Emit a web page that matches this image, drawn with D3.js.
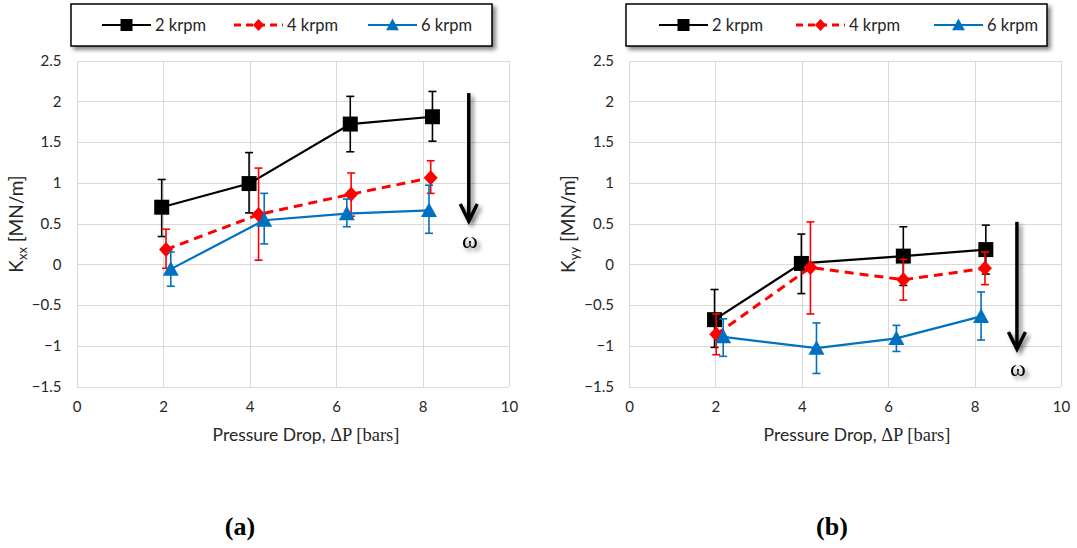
<!DOCTYPE html>
<meta charset="utf-8">
<style>
body { margin: 0; background: #fff; }
.grid line { stroke: #d9d9d9; stroke-width: 1px; shape-rendering: crispEdges; }
.grid path { stroke-width: 0; }
.tick text { font: 15px Lato, sans-serif; fill: #262626; }
.lab { font-family: Lato, sans-serif; fill: #262626; }
</style>
<body>
<script src="https://d3js.org/d3.v7.min.js"></script>
<script>

// legend names
var speeds = ["2 krpm", "4 krpm", "6 krpm"];
var xTicks = [0, 2, 4, 6, 8, 10];
var yTicks = [-1.5, -1, -0.5, 0, 0.5, 1, 1.5, 2, 2.5];

// (a) Kxx : pressure drop, value, error bar top, error bar bottom
var kxx_dp_2 = [1.97, 3.99, 6.33, 8.23];
var kxx_2    = [0.70, 0.99, 1.72, 1.81];
var kxx_2_hi = [1.04, 1.37, 2.06, 2.12];
var kxx_2_lo = [0.34, 0.63, 1.38, 1.51];
var kxx_dp_4 = [2.07, 4.21, 6.35, 8.19];
var kxx_4    = [0.18, 0.61, 0.86, 1.06];
var kxx_4_hi = [0.43, 1.18, 1.12, 1.27];
var kxx_4_lo = [-0.05, 0.05, 0.59, 0.87];
var kxx_dp_6 = [2.18, 4.34, 6.25, 8.15];
var kxx_6    = [-0.06, 0.54, 0.62, 0.66];
var kxx_6_hi = [0.15, 0.87, 0.80, 0.97];
var kxx_6_lo = [-0.27, 0.25, 0.46, 0.38];

// (b) Kyy
var kyy_dp_2 = [1.98, 3.99, 6.35, 8.26];
var kyy_2    = [-0.68, 0.01, 0.10, 0.18];
var kyy_2_hi = [-0.31, 0.37, 0.46, 0.48];
var kyy_2_lo = [-1.02, -0.36, -0.26, -0.12];
var kyy_dp_4 = [2.02, 4.20, 6.35, 8.24];
var kyy_4    = [-0.86, -0.04, -0.19, -0.05];
var kyy_4_hi = [-0.61, 0.52, 0.06, 0.15];
var kyy_4_lo = [-1.11, -0.61, -0.44, -0.25];
var kyy_dp_6 = [2.18, 4.34, 6.19, 8.15];
var kyy_6    = [-0.89, -1.03, -0.91, -0.64];
var kyy_6_hi = [-0.67, -0.72, -0.75, -0.34];
var kyy_6_lo = [-1.13, -1.34, -1.07, -0.93];

// the omega arrow (x, top, tip) in data units
var arrowA = [9.07, 2.10, 0.53];
var arrowB = [8.98, 0.52, -1.04];

var styles = [
  {color: "#000000", width: 2.2, dash: null, marker: "square"},
  {color: "#ff0000", width: 3, dash: "9,6", marker: "diamond"},
  {color: "#0070c0", width: 2.2, dash: null, marker: "triangle"}
];

function zip(xs, ys, hi, lo) {
  return xs.map(function(x, i) { return {x: x, y: ys[i], hi: hi[i], lo: lo[i]}; });
}

var svg = d3.select("body").append("svg")
    .attr("width", 1077)
    .attr("height", 548);

// drop shadow
var defs = svg.append("defs");
var f = defs.append("filter").attr("id", "shadow")
    .attr("x", "-50%").attr("y", "-50%").attr("width", "200%").attr("height", "200%");
f.append("feGaussianBlur").attr("in", "SourceAlpha").attr("stdDeviation", 2);
f.append("feOffset").attr("dx", 3).attr("dy", 3).attr("result", "ob");
f.append("feComponentTransfer").append("feFuncA").attr("type", "linear").attr("slope", 0.5);
var fm = f.append("feMerge");
fm.append("feMergeNode");
fm.append("feMergeNode").attr("in", "SourceGraphic");

function markerPath(kind) {
  if (kind == "square") return "M-7.5,-7.5H7.5V7.5H-7.5Z";
  if (kind == "diamond") return "M0,-7.5L7,0L0,7.5L-7,0Z";
  return "M0,-8L8,6.5L-8,6.5Z";
}

function drawPanel(p) {
  var x = d3.scaleLinear().domain([0, 10]).range([p.left, p.right]);
  var y = d3.scaleLinear().domain([-1.5, 2.5]).range([386.5, 60.5]);

  var g = svg.append("g");

  // grid lines
  g.append("g").attr("class", "grid")
    .attr("transform", "translate(0,386.5)")
    .call(d3.axisBottom(x).tickValues(xTicks).tickSize(-(386.5 - 60.5)).tickFormat(""));
  g.append("g").attr("class", "grid")
    .attr("transform", "translate(" + p.left + ",0)")
    .call(d3.axisLeft(y).tickValues(yTicks).tickSize(-(p.right - p.left)).tickFormat(""));

  // tick labels
  var xa = g.append("g").attr("transform", "translate(0,386.5)")
    .call(d3.axisBottom(x).tickValues(xTicks).tickSize(0).tickPadding(15));
  xa.select(".domain").remove();
  var ya = g.append("g").attr("transform", "translate(" + p.left + ",0)")
    .call(d3.axisLeft(y).tickValues(yTicks).tickSize(0).tickPadding(15)
      .tickFormat(function(d) { return d3.format("")(d); }));
  ya.select(".domain").remove();

  // axis titles
  var xt = g.append("text").attr("class", "lab")
    .attr("x", p.xTitle).attr("y", 441)
    .attr("text-anchor", "middle")
    .style("font-size", "17.5px");
  xt.append("tspan").text("Pressure Drop, ");
  xt.append("tspan").style("font-family", "Liberation Serif, serif").style("font-size", "18.5px").text("\u0394P [bars]");

  var yt = g.append("text").attr("class", "lab")
    .attr("transform", "translate(" + p.yTitle + ",224) rotate(-90)")
    .attr("text-anchor", "middle")
    .style("font-size", "19px");
  yt.append("tspan").text("K");
  yt.append("tspan").attr("dy", 4).style("font-size", "13px").text(p.sub);
  yt.append("tspan").attr("dy", -4).text(" [MN/m]");

  // series
  p.series.forEach(function(data, i) {
    var s = styles[i];
    var line = d3.line().x(function(d) { return x(d.x); }).y(function(d) { return y(d.y); });
    g.append("path").datum(data)
      .attr("fill", "none")
      .attr("stroke", s.color)
      .attr("stroke-width", s.width)
      .attr("stroke-dasharray", s.dash)
      .attr("d", line);

    var eb = g.append("g").attr("stroke", s.color).attr("stroke-width", 1.6);
    eb.selectAll("line.v").data(data).enter().append("line")
      .attr("x1", function(d) { return x(d.x); }).attr("x2", function(d) { return x(d.x); })
      .attr("y1", function(d) { return y(d.hi); }).attr("y2", function(d) { return y(d.lo); });
    ["hi", "lo"].forEach(function(k) {
      eb.selectAll("line." + k).data(data).enter().append("line")
        .attr("x1", function(d) { return x(d.x) - 4; }).attr("x2", function(d) { return x(d.x) + 4; })
        .attr("y1", function(d) { return y(d[k]); }).attr("y2", function(d) { return y(d[k]); });
    });

    g.selectAll(null).data(data).enter().append("path")
      .attr("transform", function(d) { return "translate(" + x(d.x) + "," + y(d.y) + ")"; })
      .attr("d", markerPath(s.marker))
      .attr("fill", s.color);
  });

  // omega arrow
  var ax = x(p.arrow[0]), at = y(p.arrow[1]), ab = y(p.arrow[2]);
  var arr = g.append("g").attr("filter", "url(#shadow)")
    .attr("stroke", "#000").attr("stroke-width", 3.5).attr("fill", "none");
  arr.append("line").attr("x1", ax).attr("x2", ax).attr("y1", at).attr("y2", ab - 1);
  arr.append("path").attr("d", "M" + (ax - 8.5) + "," + (ab - 17) + "L" + ax + "," + ab + "L" + (ax + 8.5) + "," + (ab - 17));
  g.append("text").attr("filter", "url(#shadow)")
    .attr("x", ax + 1).attr("y", ab + 27)
    .attr("text-anchor", "middle")
    .style("font-family", "Liberation Serif, serif").style("font-size", "24px")
    .text("\u03c9");

  // legend
  var lg = g.append("g").attr("transform", "translate(" + p.legX + ",4)");
  lg.append("rect").attr("width", 421).attr("height", 42)
    .attr("fill", "#fff").attr("stroke", "#000").attr("stroke-width", 1.5)
    .attr("filter", "url(#shadow)");
  speeds.forEach(function(name, i) {
    var s = styles[i];
    var lx = p.legItems[i];
    lg.append("line").attr("x1", lx).attr("x2", lx + 49).attr("y1", 21).attr("y2", 21)
      .attr("stroke", s.color).attr("stroke-width", s.width)
      .attr("stroke-dasharray", s.dash ? "7,5" : null);
    lg.append("path")
      .attr("d", markerPath(s.marker)).attr("fill", s.color)
      .attr("transform", "translate(" + (lx + 24.5) + ",21) scale(0.8)");
    lg.append("text").attr("class", "lab")
      .attr("x", lx + 53).attr("y", 27)
      .style("font-size", "16.5px")
      .text(name);
  });

  // panel letter
  svg.append("text")
    .attr("x", p.letterX).attr("y", 535)
    .attr("text-anchor", "middle")
    .style("font-family", "Liberation Serif, serif").style("font-weight", "bold").style("font-size", "26px")
    .text(p.letter);
}

drawPanel({
  left: 76.5, right: 509,
  xTitle: 306, yTitle: 23, sub: "xx",
  series: [zip(kxx_dp_2, kxx_2, kxx_2_hi, kxx_2_lo),
           zip(kxx_dp_4, kxx_4, kxx_4_hi, kxx_4_lo),
           zip(kxx_dp_6, kxx_6, kxx_6_hi, kxx_6_lo)],
  arrow: arrowA,
  legX: 71, legItems: [31, 163, 297],
  letter: "(a)", letterX: 240
});

drawPanel({
  left: 629, right: 1061,
  xTitle: 857, yTitle: 575, sub: "yy",
  series: [zip(kyy_dp_2, kyy_2, kyy_2_hi, kyy_2_lo),
           zip(kyy_dp_4, kyy_4, kyy_4_hi, kyy_4_lo),
           zip(kyy_dp_6, kyy_6, kyy_6_hi, kyy_6_lo)],
  arrow: arrowB,
  legX: 626, legItems: [33, 170, 308],
  letter: "(b)", letterX: 832
});

</script>
</body>
